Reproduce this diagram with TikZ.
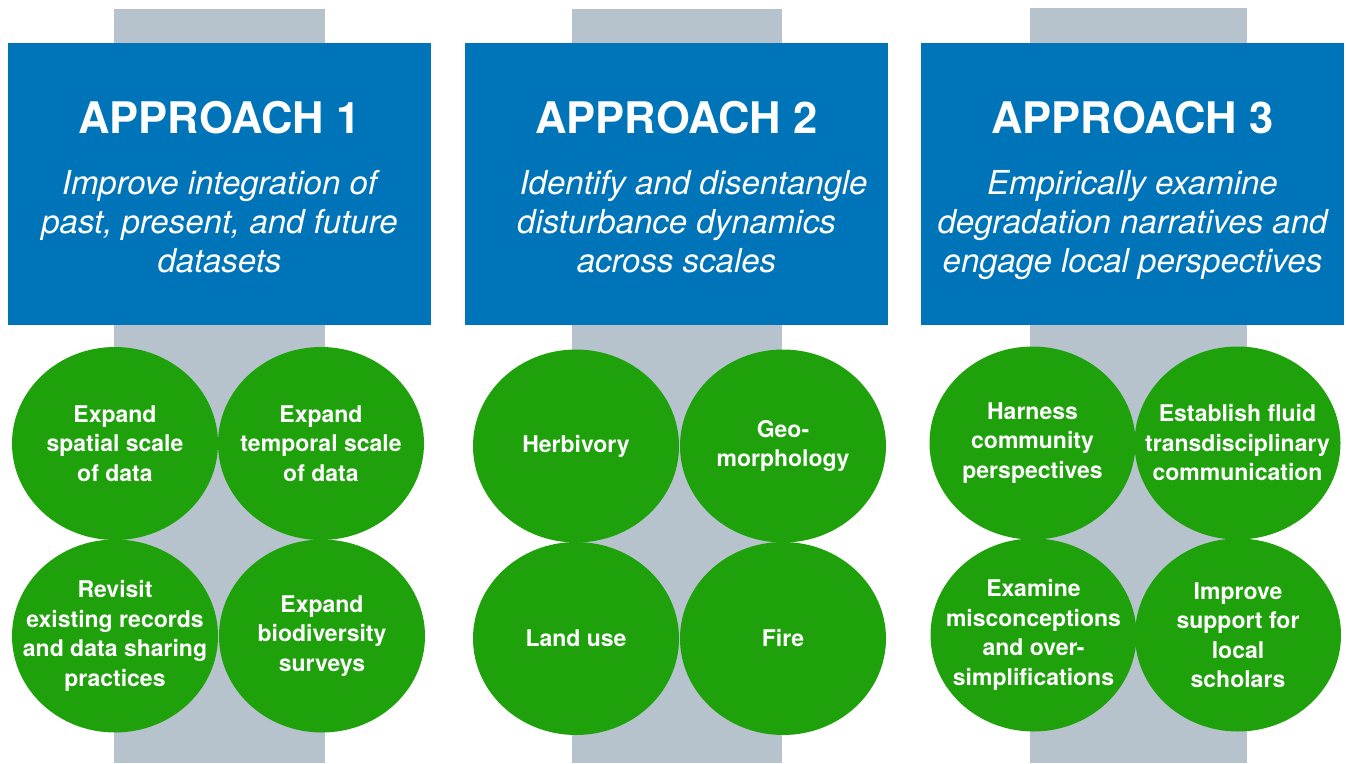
\documentclass[tikz,border=0pt]{standalone}
\usepackage{fontspec}
\setmainfont{TeX Gyre Heros}
\usetikzlibrary{shapes.geometric}
\definecolor{pillargrey}{RGB}{182,195,205}
\definecolor{approachblue}{RGB}{0,116,185}
\definecolor{bubblegreen}{RGB}{30,161,11}
\tikzset{
    pillar/.style={fill=pillargrey, draw=none},
    approach/.style={
           rectangle,
           fill=approachblue,
           minimum width=423pt,
           minimum height=282pt,
           inner sep=0pt,
           },
    heading/.style={text=white, anchor=base, inner sep=0pt,
           font=\fontsize{43.5}{50}\selectfont\bfseries},
    aim/.style={text=white, anchor=base, inner sep=0pt, align=center,
           font=\fontsize{33}{39}\selectfont\itshape},
    bubble/.style={
           ellipse,
           fill=bubblegreen,
           minimum width=206pt,
           minimum height=193pt,
           inner sep=0pt,
           },
    bubtext/.style={text=white, inner sep=0pt, align=center,
           font=\fontsize{23}{29.5}\selectfont\bfseries},
}

\begin{document}
\begin{tikzpicture}[x=1pt, y=-1pt]
  \useasboundingbox (0,0) rectangle (1346,763);
  % pillars behind everything
  \fill[pillar] (114, 9) rectangle (325, 763);
  \fill[pillar] (572, 9) rectangle (782, 763);
  \fill[pillar] (1030,8) rectangle (1247,763);

  % approach boxes
  \node[approach] (A1) at (219.5, 184) {};
  \node[approach] (A2) at (676.5, 184) {};
  \node[approach] (A3) at (1132.5,184) {};
  \node[heading] (A1h) at (219.5, 133) {APPROACH 1};
  \node[heading] (A2h) at (676.5, 133) {APPROACH 2};
  \node[heading] (A3h) at (1132.5,133) {APPROACH 3};
  % base anchor sits on the last line
  \node[aim] (A1a) at (219.5, 272) {Improve integration of\\past, present, and future\\datasets};
  \node[aim] (A2a) at (676.5, 272) {\hspace*{34pt}Identify and disentangle\\disturbance dynamics\\across scales};
  \node[aim] (A3a) at (1132.5,272) {Empirically examine\\degradation narratives and\\engage local perspectives};

  % approach 1
  \node[bubble] (S) at (115, 443.5) {};
  \node[bubble] (T) at (321, 443.5) {};
  \node[bubble] (R) at (115, 636) {};
  \node[bubble] (B) at (322, 636) {};
  \node[bubtext] (St) at (S) {Expand\\spatial scale\\of data};
  \node[bubtext] (Tt) at (T) {Expand\\temporal scale\\of data};
  \node[bubtext] (Rt) at (R) {Revisit\\existing records\\and data sharing\\practices};
  \node[bubtext] (Bt) at (B) {Expand\\biodiversity\\surveys};

  % approach 2
  \node[bubble] (H) at (576, 446) {};
  \node[bubble] (G) at (783, 446) {};
  \node[bubble] (L) at (576, 638.5) {};
  \node[bubble] (F) at (783, 638.5) {};
  \node[bubtext] (Ht) at (H) {Herbivory};
  \node[bubtext] (Gt) at (G) {Geo-\\morphology};
  \node[bubtext] (Lt) at (L) {Land use};
  \node[bubtext] (Ft) at (F) {Fire};

  % approach 3
  \node[bubble] (C) at (1032.5, 443) {};
  \node[bubble] (E) at (1237.5, 443) {};
  \node[bubble] (M) at (1033.5, 635) {};
  \node[bubble] (P) at (1238, 635) {};
  \node[bubtext] (Ct) at (C) {Harness\\community\\perspectives};
  \node[bubtext] (Et) at (E) {Establish fluid\\transdisciplinary\\communication};
  \node[bubtext] (Mt) at (M) {Examine\\misconceptions\\and over-\\simplifications};
  \node[bubtext] (Pt) at (P) {Improve\\support for\\local\\scholars};
\end{tikzpicture}
\end{document}
